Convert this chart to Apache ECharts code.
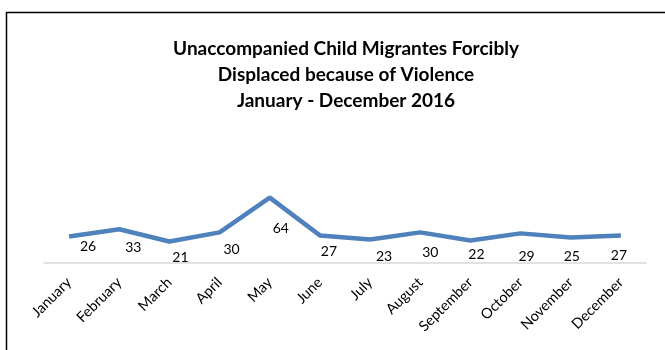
<!DOCTYPE html>
<html><head><meta charset="utf-8">
<script src="https://cdn.jsdelivr.net/npm/echarts@6/dist/echarts.min.js"></script>
<style>html,body{margin:0;padding:0;background:#fff}#c{width:665px;height:350px}</style>
</head><body><div id="c"></div>
<script>
const categories = ['January','February','March','April','May','June','July','August','September','October','November','December'];
const values = [26,33,21,30,64,27,23,30,22,29,25,27];
const titleText = 'Unaccompanied Child Migrantes Forcibly\nDisplaced because of Violence\nJanuary - December 2016';
// data-label nudges (style only), relative to each point
const labelOffsets = [[19,10],[14,18],[11,16],[12,17],[11,31],[9,16],[14,17],[10,20],[6,14],[6,23],[1,19],[-2,20]];

const chart = echarts.init(document.getElementById('c'));
chart.setOption({
  animation:false,
  backgroundColor:'#fff',
  title:{text:titleText,left:341,top:31,textAlign:'center',
    textStyle:{fontFamily:'Lato',fontWeight:'bold',fontSize:19,lineHeight:26,color:'#000'}},
  graphic:[{type:'rect',shape:{x:6.5,y:12.5,width:700,height:400},style:{fill:'none',stroke:'#000',lineWidth:1.5}}],
  grid:{left:44,right:19,top:120,bottom:87},
  xAxis:{type:'category',data:categories,boundaryGap:true,
    axisLine:{lineStyle:{color:'#d9d9d9',width:1.5}},axisTick:{show:false},
    axisLabel:{rotate:45,interval:0,margin:17,fontFamily:'Lato',fontSize:14.5,color:'#000'}},
  yAxis:{type:'value',min:0,max:140,show:false,splitLine:{show:false}},
  series:[{type:'line',symbol:'circle',symbolSize:0,showSymbol:true,
    data:values.map((v,i)=>({value:v,label:{offset:labelOffsets[i]}})),
    itemStyle:{color:'#4f81bd'},
    lineStyle:{color:'#4f81bd',width:4.5},
    label:{show:true,position:'inside',align:'center',verticalAlign:'middle',fontFamily:'Lato',fontSize:14,color:'#000'}}]
});
</script></body></html>
